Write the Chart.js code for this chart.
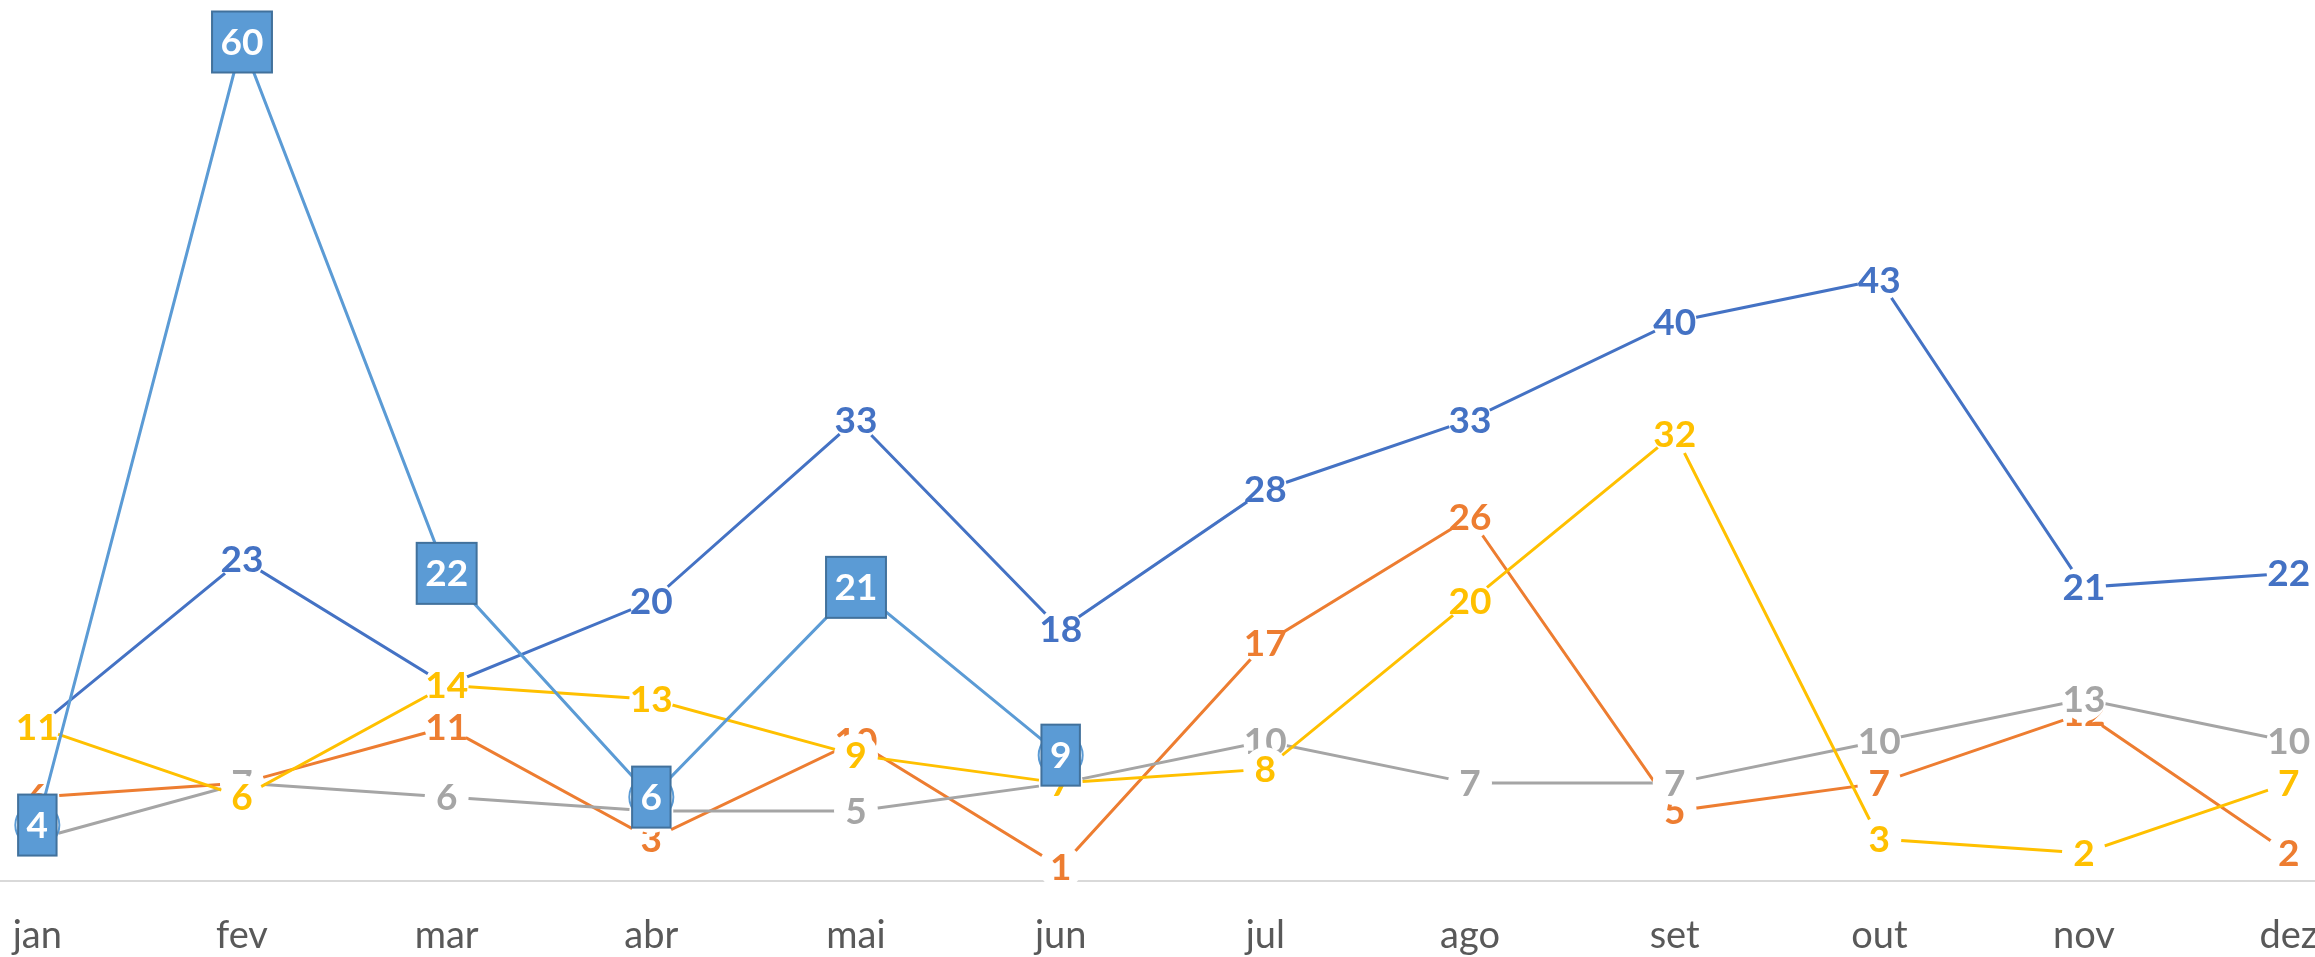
<!DOCTYPE html>
<html lang="pt">
<head>
    <meta charset="UTF-8">
    <title>Gráfico mensal</title>
    <script src="https://cdn.jsdelivr.net/npm/chart.js"></script>
    <style>
        html, body { margin: 0; padding: 0; background: #fff; overflow: hidden; }
        body { width: 2315px; height: 957px; position: relative; }
        /* the plot is wider than the window: half a category is cut at each side */
        #wrap { position: absolute; left: -65px; top: 0; width: 2456px; height: 957px; }
    </style>
</head>
<body>
    <div id="wrap">
        <canvas id="lineChart" width="2456" height="957"></canvas>
    </div>

    <script>
        // Data
        const meses = ['jan', 'fev', 'mar', 'abr', 'mai', 'jun', 'jul', 'ago', 'set', 'out', 'nov', 'dez'];
        const serie1 = [11, 23, 14, 20, 33, 18, 28, 33, 40, 43, 21, 22];
        const serie2 = [6, 7, 11, 3, 10, 1, 17, 26, 5, 7, 12, 2];
        const serie3 = [3, 7, 6, 5, 5, 7, 10, 7, 7, 10, 13, 10];
        const serie4 = [11, 6, 14, 13, 9, 7, 8, 20, 32, 3, 2, 7];
        const serie5 = [4, 60, 22, 6, 21, 9, null, null, null, null, null, null];

        const labelFont = 'bold 37px Lato';

        // draws the value on each point right after its series, so later series sit on top
        Chart.register({
            id: 'valueLabels',
            afterDatasetDraw: function(chart, args) {
                const ds = chart.data.datasets[args.index];
                const ctx = chart.ctx;
                ctx.save();
                ctx.font = labelFont;
                ctx.textAlign = 'center';
                ctx.textBaseline = 'alphabetic';
                const h = ctx.measureText('0').actualBoundingBoxAscent;
                args.meta.data.forEach(function(pt, i) {
                    const v = ds.data[i];
                    if (v === null || v === undefined) return;
                    const txt = String(v);
                    if (ds.boxed) {
                        const w = ctx.measureText(txt).width + 17;
                        ctx.fillStyle = ds.borderColor;
                        ctx.strokeStyle = '#41719C';
                        ctx.lineWidth = 2;
                        ctx.fillRect(pt.x - w / 2, pt.y - 30.5, w, 61);
                        ctx.strokeRect(pt.x - w / 2, pt.y - 30.5, w, 61);
                        ctx.fillStyle = '#fff';
                    } else {
                        ctx.fillStyle = ds.borderColor;
                    }
                    ctx.fillText(txt, pt.x, pt.y + h / 2);
                });
                ctx.restore();
            }
        });

        function serie(label, data, color, order) {
            return {
                label: label,
                data: data,
                borderColor: color,
                borderWidth: 3,
                tension: 0,
                pointRadius: 22,
                pointBackgroundColor: '#fff',
                pointBorderColor: '#fff',
                pointBorderWidth: 0,
                clip: false,
                order: order
            };
        }

        const azulClaro = serie('Série 5', serie5, '#5B9BD5', 1);
        azulClaro.pointBorderColor = '#5B9BD5';
        azulClaro.pointBorderWidth = 2;
        azulClaro.boxed = true;

        new Chart(document.getElementById('lineChart').getContext('2d'), {
            type: 'line',
            data: {
                labels: meses,
                datasets: [
                    serie('Série 1', serie1, '#4472C4', 5),
                    serie('Série 2', serie2, '#ED7D31', 4),
                    serie('Série 3', serie3, '#A5A5A5', 3),
                    serie('Série 4', serie4, '#FFC000', 2),
                    azulClaro
                ]
            },
            options: {
                responsive: false,
                animation: false,
                events: [],
                layout: { autoPadding: false, padding: { top: 42, left: 0, right: 0, bottom: 0 } },
                scales: {
                    x: {
                        offset: true,
                        grid: { display: false, drawTicks: false },
                        border: { display: true, color: '#D9D9D9', width: 2 },
                        ticks: {
                            color: '#595959',
                            padding: 32,
                            autoSkip: false,
                            maxRotation: 0,
                            font: { family: 'Lato', size: 38, lineHeight: 1.2 }
                        },
                        // fixed axis band so the baseline lands where the original has it
                        afterFit: function(scale) { scale.height = 76; }
                    },
                    y: {
                        display: false,
                        min: 0,
                        max: 60
                    }
                },
                plugins: {
                    legend: { display: false },
                    tooltip: { enabled: false }
                }
            }
        });
    </script>
</body>
</html>
